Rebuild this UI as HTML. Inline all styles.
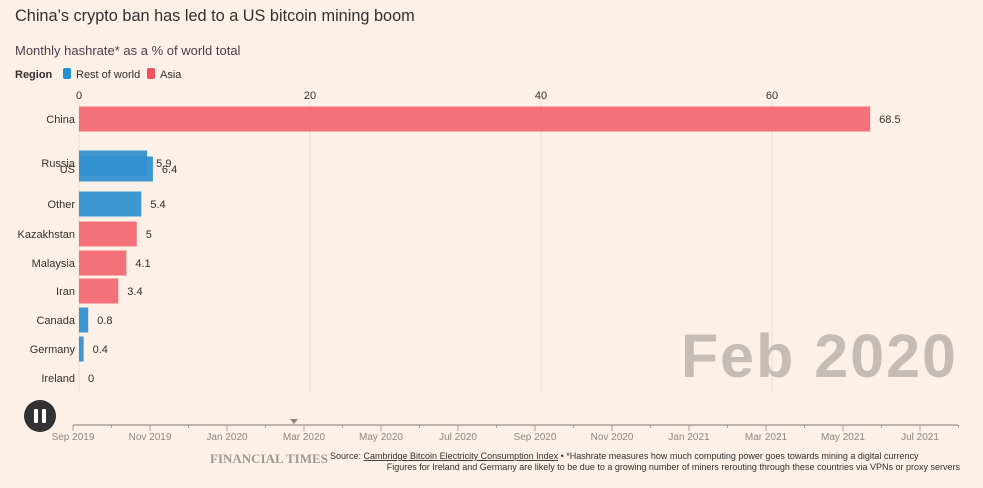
<!DOCTYPE html>
<html><head><meta charset="utf-8"><style>
body{margin:0;background:#fdf0e6;font-family:"Liberation Sans",sans-serif;}
svg{display:block}
</style></head><body>
<svg width="983" height="488">
<rect width="983" height="488" fill="#fdf0e6"/>
<text x="15" y="21" font-size="16.3" fill="#33302e">China’s crypto ban has led to a US bitcoin mining boom</text>
<text x="15" y="55" font-size="13" fill="#4d3f4a">Monthly hashrate* as a % of world total</text>
<g>
<text x="15" y="78" font-size="11" font-weight="bold" fill="#33302e">Region</text>
<rect x="63" y="68" width="8" height="11" rx="2" fill="#2490d4"/>
<text x="76" y="78" font-size="11" fill="#33302e">Rest of world</text>
<rect x="147" y="68" width="8" height="11" rx="2" fill="#f0505e"/>
<text x="160" y="78" font-size="11" fill="#33302e">Asia</text>
</g>
<g id="grid"></g>
<g id="bars"></g>
<text x="958" y="377" font-size="61" font-weight="bold" letter-spacing="2" text-anchor="end" fill="#c6bcb3">Feb 2020</text>
<g id="timeline"></g>
<circle cx="40" cy="416" r="16" fill="#333"/>
<rect x="34" y="409" width="4" height="14" rx="1" fill="#fff"/>
<rect x="42" y="409" width="4" height="14" rx="1" fill="#fff"/>
<text x="210" y="463" font-family="Liberation Serif,serif" font-size="13" font-weight="bold" fill="#a09890">FINANCIAL TIMES</text>
<text x="330" y="459" font-size="9" fill="#33302e">Source: <tspan text-decoration="underline">Cambridge Bitcoin Electricity Consumption Index</tspan> • *Hashrate measures how much computing power goes towards mining a digital currency</text>
<text x="960" y="470" font-size="9" text-anchor="end" fill="#33302e">Figures for Ireland and Germany are likely to be due to a growing number of miners rerouting through these countries via VPNs or proxy servers</text>
</svg>
<script>
const countries=["China","Russia","US","Other","Kazakhstan","Malaysia","Iran","Canada","Germany","Ireland"];
const values=[68.5,5.9,6.4,5.4,5,4.1,3.4,0.8,0.4,0];
const regions=["Asia","Rest","Rest","Rest","Asia","Asia","Asia","Rest","Rest","Rest"];
const rowY=[119,163,169,204,234,263,291,320,349,378];
const xTicks=[0,20,40,60];
const months=["Sep 2019","Nov 2019","Jan 2020","Mar 2020","May 2020","Jul 2020","Sep 2020","Nov 2020","Jan 2021","Mar 2021","May 2021","Jul 2021"];
const NS="http://www.w3.org/2000/svg";
const x=v=>79+v*11.55;
function mk(t,a,p){const e=document.createElementNS(NS,t);for(const k in a)e.setAttribute(k,a[k]);p.appendChild(e);return e;}
const grid=document.getElementById('grid');
xTicks.forEach(t=>{
 const l=mk('line',{x1:x(t),x2:x(t),y1:101,y2:392,stroke:'#eadfd6'},grid);
 
 
 const tx=mk('text',{x:x(t),y:99,'font-size':11,'text-anchor':'middle',fill:'#33302e'},grid);
 tx.textContent=t;
 
 
});
const bars=document.getElementById('bars');
countries.forEach((c,i)=>{
 const col=regions[i]==="Asia"?'#f26670':'#2f8fcf';
 const r=mk('rect',{x:x(0),y:rowY[i]-12.5,width:x(values[i])-x(0),height:25,fill:col,'fill-opacity':0.92},bars);
 
 
 const lb=mk('text',{x:75,y:rowY[i]+4,'font-size':11,'text-anchor':'end',fill:'#33302e'},bars);
 lb.textContent=c;
 
 
 const vl=mk('text',{x:x(values[i])+9,y:rowY[i]+4,'font-size':11,fill:'#33302e'},bars);
 vl.textContent=values[i];
 
 
});
const tl=document.getElementById('timeline');
mk('line',{x1:73,x2:958,y1:425,y2:425,stroke:'#a8a09a','stroke-width':1.5},tl);
for(let k=0;k<=23;k++){const xx=73+k*38.5;mk('line',{x1:xx,x2:xx,y1:425,y2:k%2?428:431,stroke:'#a8a09a'},tl);}
months.forEach((m,i)=>{
 const t=mk('text',{x:73+i*77,y:440,'font-size':10,'text-anchor':'middle',fill:'#8f8780'},tl);
 t.textContent=m;
 
 
});
mk('path',{d:'M290 419 L298 419 L294 424 Z',fill:'#8f8780'},tl);
</script>
</body></html>
